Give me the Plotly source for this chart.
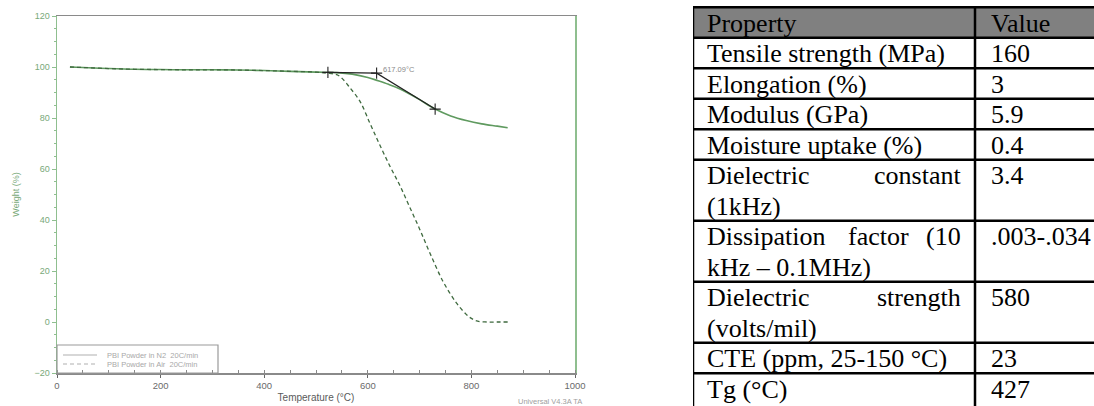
import plotly.graph_objects as go

# ---- TGA data ----
n2_temp = [25, 50, 100, 150, 200, 250, 300, 350, 400, 450, 500, 540, 570, 600, 620, 640, 660, 680, 700, 730, 760, 790, 820, 850, 870]
n2_weight = [100, 99.8, 99.4, 99.1, 99.0, 98.9, 98.9, 98.8, 98.6, 98.3, 98.0, 97.8, 97.2, 95.9, 94.6, 93.2, 91.6, 89.5, 87.2, 83.5, 80.8, 79.0, 77.7, 76.8, 76.2]

air_temp = [25, 50, 100, 150, 200, 250, 300, 350, 400, 450, 500, 520, 540, 550, 565, 585, 604, 623, 643, 662, 681, 701, 720, 745, 771, 790, 800, 812, 830, 850, 870]
air_weight = [100, 99.8, 99.4, 99.1, 99.0, 98.9, 98.9, 98.8, 98.6, 98.3, 98.0, 97.6, 97.0, 95.6, 92.0, 86.5, 78.0, 69.5, 61.0, 53.5, 45.0, 36.0, 27.0, 16.0, 7.5, 3.0, 1.4, 0.3, 0, 0, 0]

onset_temp = [523, 617, 730]
onset_weight = [97.9, 97.6, 83.5]
onset_label = "617.09°C"

series_names = ["PBI Powder in N2  20C/min", "PBI Powder in Air  20C/min"]
x_ticks = [0, 200, 400, 600, 800, 1000]
y_ticks = [-20, 0, 20, 40, 60, 80, 100, 120]
footer_text = "Universal V4.3A TA"

# ---- Table data ----
table_header = ["Property", "Value"]
# each entry: list of lines; a line given as a list of words is justified
table_props = [
    ["Tensile strength (MPa)"],
    ["Elongation (%)"],
    ["Modulus (GPa)"],
    ["Moisture uptake (%)"],
    [["Dielectric", "constant"], "(1kHz)"],
    [["Dissipation", "factor", "(10"], "kHz – 0.1MHz)"],
    [["Dielectric", "strength"], "(volts/mil)"],
    ["CTE (ppm, 25-150 °C)"],
    ["Tg (°C)"],
]
table_values = ["160", "3", "5.9", "0.4", "3.4", ".003-.034", "580", "23", "427"]

# ---------------- geometry ----------------
W, H = 1094, 406

def px(x):          # screen x (px) -> paper
    return x / W

def py(y):          # screen y (px, from top) -> paper
    return (H - y) / H

PX0, PX1 = 57, 575       # plot area on screen
PY0, PY1 = 16, 373

N2_COLOR = "#5f9a5f"
AIR_COLOR = "#3f6a3f"
fig = go.Figure()

fig.add_trace(go.Scatter(x=n2_temp, y=n2_weight, mode="lines", name=series_names[0], showlegend=False,
                         line=dict(color=N2_COLOR, width=1.6), line_shape="spline"))
fig.add_trace(go.Scatter(x=air_temp, y=air_weight, mode="lines", name=series_names[1], showlegend=False,
                         line=dict(color=AIR_COLOR, width=1.3, dash="4px,3px"), line_shape="spline"))
fig.add_trace(go.Scatter(x=onset_temp, y=onset_weight, mode="lines+markers", showlegend=False,
                         line=dict(color="#222222", width=1.2),
                         marker=dict(symbol="cross-thin", size=8, line=dict(color="#222222", width=1.1))))

fig.add_annotation(x=onset_temp[1] + 8, y=onset_weight[1] + 1.6, text=onset_label, showarrow=False,
                   xanchor="left", yanchor="middle", font=dict(size=7.5, color="#8a8a8a", family="Liberation Sans"))

# --- compact legend box in the bottom-left corner of the plot ---
fig.add_shape(type="rect", xref="paper", yref="paper", x0=px(57), x1=px(218), y0=py(373), y1=py(345),
              line=dict(color="#9a9a9a", width=1.2), fillcolor="rgba(0,0,0,0)")
legend_styles = [dict(color="#b0b0b0", width=1.2), dict(color="#b0b0b0", width=1.2, dash="4px,3px")]
for i, name in enumerate(series_names):
    yy = 355 + i * 9
    fig.add_shape(type="line", xref="paper", yref="paper", x0=px(63), x1=px(97), y0=py(yy), y1=py(yy),
                  line=legend_styles[i])
    fig.add_annotation(x=px(105), y=py(yy), xref="paper", yref="paper", text=name, showarrow=False,
                       xanchor="left", yanchor="middle",
                       font=dict(size=7.5, color="#a8a8a8", family="Liberation Sans"))

fig.add_annotation(x=px(584), y=py(401), xref="paper", yref="paper", text=footer_text,
                   showarrow=False, xanchor="right", yanchor="middle",
                   font=dict(size=7.5, color="#a0a0a0", family="Liberation Sans"))

# --- table drawn on its own axes (x in px-like units, y in text-line units) ---
FONT_T = dict(family="Liberation Serif", size=26, color="black")
TABLE_LEFT = 693
TABLE_TOP = 7.3
UNIT_PX = 30.5
COL_W = [282, 119]
PAD = [12, 14]
row_lines = [1] + [len(r) for r in table_props]
row_tops = [0]
for n in row_lines:
    row_tops.append(row_tops[-1] + n)
total_units = row_tops[-1]

# approximate Times/Liberation Serif advance widths (em) for justified words
CW = {"D": .722, "i": .278, "s": .389, "p": .5, "a": .444, "t": .278, "o": .5, "n": .5, "f": .333,
      "c": .444, "(": .333, ")": .333, "1": .5, "0": .5, "e": .444, "l": .278, "r": .333, "g": .5, "h": .5}

def wpx(word):
    return sum(CW.get(ch, .5) for ch in word) * FONT_T["size"]

def txt(x, y, s, anchor):
    fig.add_annotation(x=x, y=y, xref="x2", yref="y2", text=s, showarrow=False,
                       xanchor=anchor, yanchor="middle", font=FONT_T)

def cell_text(x_left, x_right, y_unit, line):
    if isinstance(line, list) and len(line) > 1:
        txt(x_left, y_unit, line[0], "left")
        txt(x_right, y_unit, line[-1], "right")
        mids = line[1:-1]
        if mids:
            a = x_left + wpx(line[0])
            b = x_right - wpx(line[-1])
            widths = [wpx(m) for m in mids]
            gap = (b - a - sum(widths)) / (len(mids) + 1)
            cur = a
            for m, w_ in zip(mids, widths):
                cur += gap
                txt(cur, y_unit, m, "left")
                cur += w_
        return
    if isinstance(line, list):
        line = line[0]
    txt(x_left, y_unit, line, "left")

TEXT_DY = 0.52
# header fill
fig.add_shape(type="rect", xref="x2", yref="y2", x0=0, x1=sum(COL_W) + 20, y0=0, y1=1,
              fillcolor="#808080", line=dict(width=0), layer="below")
cell_text(PAD[0], COL_W[0] - PAD[0], TEXT_DY, table_header[0])
cell_text(COL_W[0] + PAD[1], sum(COL_W), TEXT_DY, table_header[1])
# body
for r, (prop, val) in enumerate(zip(table_props, table_values)):
    top = row_tops[r + 1]
    for k, line in enumerate(prop):
        cell_text(PAD[0], COL_W[0] - PAD[0], top + k + TEXT_DY, line)
    cell_text(COL_W[0] + PAD[1], sum(COL_W), top + TEXT_DY, val)
# grid lines
LINE = dict(color="black", width=2.5)
for t in row_tops[:-1]:
    fig.add_shape(type="line", xref="x2", yref="y2", x0=0, x1=sum(COL_W) + 20, y0=t, y1=t, line=LINE)
for xv in [0, COL_W[0]]:
    fig.add_shape(type="line", xref="x2", yref="y2", x0=xv, x1=xv, y0=0, y1=total_units + 1, line=LINE)

top_shift = TABLE_TOP / UNIT_PX
fig.update_layout(
    xaxis2=dict(domain=[px(TABLE_LEFT), 1.0], range=[0, W - TABLE_LEFT], visible=False,
                anchor="y2", fixedrange=True),
    yaxis2=dict(domain=[0, 1.0], range=[H / UNIT_PX - top_shift, -top_shift], visible=False,
                anchor="x2", fixedrange=True),
)

fig.update_layout(
    width=W, height=H,
    margin=dict(l=0, r=0, t=0, b=0),
    paper_bgcolor="white", plot_bgcolor="white",
    font=dict(family="Liberation Sans"),
    showlegend=False,
    xaxis=dict(domain=[px(PX0), px(PX1)], range=[0, 1000], tickvals=x_ticks, automargin=False,
               showline=True, linecolor="#8a8a8a", linewidth=1.5, mirror=True,
               ticks="outside", ticklen=3, tickcolor="#666666",
               minor=dict(dtick=50, ticks="inside", ticklen=3, tickcolor="#888888"),
               showgrid=False, zeroline=False,
               tickfont=dict(size=9.5, color="#6a6a6a"),
               title=dict(text="Temperature (°C)", font=dict(size=10, color="#5a5a5a"), standoff=4)),
    yaxis=dict(domain=[py(PY1), py(PY0)], range=[-20, 120], tickvals=y_ticks, automargin=False,
               showline=True, linecolor="#8fbf8f", linewidth=1.5, mirror=True,
               ticks="outside", ticklen=4, tickcolor="#8fbf8f",
               minor=dict(dtick=5, ticks="outside", ticklen=2, tickcolor="#8fbf8f"),
               showgrid=False, zeroline=False,
               tickfont=dict(size=9, color="#79a979"),
               title=dict(text="Weight (%)", font=dict(size=9, color="#79a979"), standoff=13)),
)

# remove the page's default 8px body margin so the figure fills the window exactly
fig.write_html("out.html", config={"displayModeBar": False, "staticPlot": True},
               post_script="document.body.style.margin='0';document.body.style.overflow='hidden';")
